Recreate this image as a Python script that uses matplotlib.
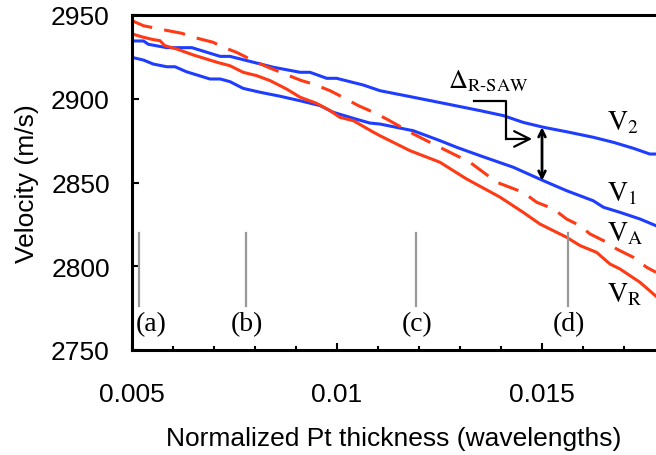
import matplotlib.pyplot as plt
from matplotlib.ticker import MultipleLocator

plt.rcParams['font.family'] = 'Liberation Sans'
plt.rcParams['mathtext.fontset'] = 'stix'

# ---------------------------------------------------------------------------
# Data (thickness in wavelengths, velocity in m/s)
# ---------------------------------------------------------------------------
v2_x = [0.00500, 0.00528, 0.00540, 0.00585, 0.00646, 0.00715, 0.00739, 0.00796,
        0.00845, 0.00910, 0.00934, 0.00975, 0.00999, 0.01064, 0.01105, 0.01186,
        0.01268, 0.01349, 0.01406, 0.01454, 0.01503, 0.01560, 0.01625, 0.01674,
        0.01723, 0.01763, 0.01778]
v2_y = [2934.5, 2934.5, 2932.5, 2930.5, 2930.5, 2925.3, 2925.3, 2921.8,
        2918.8, 2915.8, 2915.8, 2912.2, 2912.2, 2908.2, 2904.8, 2900.9,
        2896.9, 2892.9, 2889.9, 2885.9, 2883.0, 2880.3, 2877.0, 2874.0,
        2870.4, 2867.0, 2867.0]

v1_x = [0.00500, 0.00528, 0.00552, 0.00585, 0.00605, 0.00633, 0.00690, 0.00715,
        0.00739, 0.00771, 0.00812, 0.00861, 0.00910, 0.00959, 0.00991, 0.01040,
        0.01080, 0.01105, 0.01186, 0.01251, 0.01292, 0.01349, 0.01430, 0.01503,
        0.01560, 0.01625, 0.01650, 0.01690, 0.01739, 0.01778]
v1_y = [2924.7, 2923.1, 2920.7, 2919.1, 2919.1, 2916.1, 2911.8, 2911.8,
        2910.2, 2906.2, 2903.9, 2901.5, 2898.8, 2895.9, 2891.9, 2888.3,
        2885.5, 2884.9, 2880.9, 2875.0, 2871.0, 2866.0, 2859.1, 2851.1,
        2845.1, 2839.1, 2835.2, 2832.2, 2828.2, 2824.2]

vr_x = [0.00500, 0.00528, 0.00552, 0.00568, 0.00580, 0.00609, 0.00650, 0.00707,
        0.00739, 0.00771, 0.00804, 0.00837, 0.00877, 0.00910, 0.00950, 0.00983,
        0.01007, 0.01040, 0.01089, 0.01105, 0.01178, 0.01251, 0.01316, 0.01398,
        0.01454, 0.01495, 0.01560, 0.01593, 0.01633, 0.01666, 0.01690, 0.01739,
        0.01778]
vr_y = [2938.7, 2936.7, 2935.3, 2934.7, 2931.7, 2929.7, 2926.1, 2921.8,
        2919.7, 2915.8, 2913.8, 2910.8, 2905.8, 2900.9, 2897.3, 2892.9,
        2888.9, 2886.9, 2880.0, 2877.9, 2869.0, 2862.1, 2852.1, 2841.2,
        2832.2, 2825.2, 2817.3, 2812.3, 2808.3, 2801.3, 2798.4, 2790.4,
        2782.1]

va_x = [0.00500, 0.00528, 0.00576, 0.00621, 0.00650, 0.00698, 0.00723, 0.00755,
        0.00796, 0.00832, 0.00893, 0.00914, 0.00942, 0.00983, 0.01007, 0.01052,
        0.01089, 0.01121, 0.01186, 0.01259, 0.01324, 0.01390, 0.01454, 0.01487,
        0.01528, 0.01560, 0.01593, 0.01617, 0.01658, 0.01682, 0.01723, 0.01755,
        0.01778]
va_y = [2946.6, 2943.6, 2941.2, 2939.1, 2936.7, 2933.7, 2930.7, 2927.7,
        2922.7, 2918.8, 2912.8, 2910.8, 2908.8, 2904.8, 2901.8, 2895.9,
        2891.9, 2887.9, 2879.0, 2870.0, 2862.1, 2850.1, 2844.1, 2838.2,
        2834.2, 2828.2, 2824.2, 2819.3, 2814.3, 2810.3, 2805.3, 2799.4,
        2796.4]

# thickness markers (a)-(d)
mark_x = [0.00516, 0.00778, 0.01193, 0.01563]
mark_labels = ['(a)', '(b)', '(c)', '(d)']

blue = '#1f3dff'
red = '#ff3a14'

fig = plt.figure(figsize=(6.56, 4.56), dpi=100)
ax = fig.add_axes([132/656, 105/456, 524/656, 335/456])

ax.plot(v2_x, v2_y, color=blue, lw=2.2)
ax.plot(v1_x, v1_y, color=blue, lw=2.2)
ax.plot(vr_x, vr_y, color=red, lw=2.2)
ax.plot(va_x, va_y, color=red, lw=2.2, dashes=(7, 4))

# grey markers with labels
for xm, lab in zip(mark_x, mark_labels):
    ax.plot([xm, xm], [2776.5, 2820], color='#999999', lw=1.6)
for xm, lab in zip(mark_x, mark_labels):
    if lab == '(a)':
        ax.text(xm - 0.00007, 2765.5, lab, ha='left', va='center',
                family='Liberation Serif', fontsize=20)
    else:
        ax.text(xm + 0.00003, 2765.5, lab, ha='center', va='center',
                family='Liberation Serif', fontsize=20)

# curve labels
ax.text(0.01658, 2882, r'$\mathrm{V_2}$', fontsize=20, va='baseline')
ax.text(0.01658, 2839.6, r'$\mathrm{V_1}$', fontsize=20, va='baseline')
ax.text(0.01658, 2815.4, r'$\mathrm{V_A}$', fontsize=20, va='baseline')
ax.text(0.01658, 2779.4, r'$\mathrm{V_R}$', fontsize=20, va='baseline')

# Delta R-SAW annotation
ax.text(0.01271, 2907, r'$\Delta_{\mathrm{R\text{-}SAW}}$', fontsize=19,
        va='baseline', ha='left')
ax.plot([0.013349, 0.014122, 0.014122], [2898.8, 2898.8, 2876],
        color='black', lw=1.6)
ax.annotate('', xy=(0.01476, 2876), xytext=(0.014122, 2876),
            arrowprops=dict(arrowstyle='->', lw=1.6, color='black',
                            mutation_scale=28, shrinkA=0, shrinkB=0))
ax.annotate('', xy=(0.015, 2883.0), xytext=(0.015, 2851.1),
            arrowprops=dict(arrowstyle='<->', lw=2, color='black',
                            mutation_scale=12, shrinkA=0, shrinkB=0))

ax.set_xlim(0.005, 0.01778)
ax.set_ylim(2750, 2950)
ax.set_xticks([0.005, 0.01, 0.015])
ax.set_xticklabels(['0.005', '0.01', '0.015'])
ax.xaxis.set_minor_locator(MultipleLocator(0.001))
ax.set_yticks([2750, 2800, 2850, 2900, 2950])

ax.spines['right'].set_visible(False)
for s in ['left', 'bottom', 'top']:
    ax.spines[s].set_linewidth(2.2)
ax.tick_params(axis='both', which='major', direction='in', length=5, width=1.5,
               labelsize=19)
ax.tick_params(axis='x', which='major', pad=23)
ax.tick_params(axis='y', which='major', pad=16)
ax.tick_params(axis='x', which='minor', direction='in', length=3, width=1.5)
ax.tick_params(top=False, right=False, which='both')

ax.set_xlabel('Normalized Pt thickness (wavelengths)', fontsize=19)
ax.set_ylabel('Velocity (m/s)', fontsize=19)
ax.xaxis.set_label_coords(0.5, -0.226)
ax.yaxis.set_label_coords(-0.178, 0.5)

fig.savefig('out.png', dpi=100)
